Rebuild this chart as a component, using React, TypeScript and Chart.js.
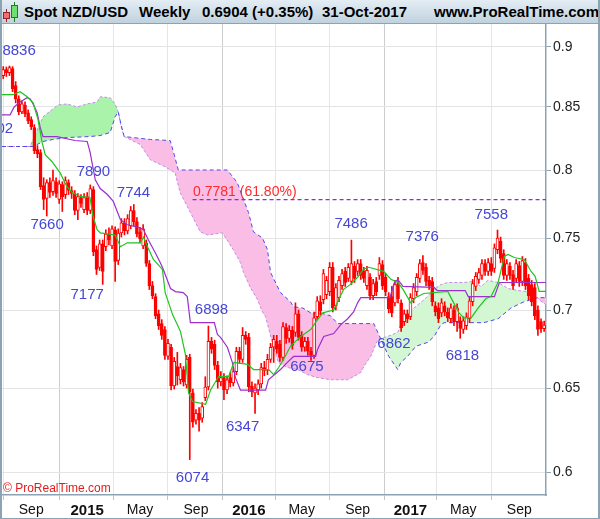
import { useEffect, useRef } from 'react';
import { Chart, registerables } from 'chart.js';
Chart.register(...registerables);

// ---- weekly candles (index 0 = week of 30-Jun-2014, index 174 = week of 30-Oct-2017)
const opens = [0.8756,0.8806,0.8781,0.8814,0.8673,0.8564,0.8458,0.8514,0.8451,0.8396,0.8333,0.8160,0.8137,0.7885,0.7789,0.7907,0.7840,0.7914,0.7781,0.7892,0.7818,0.7907,0.7848,0.7826,0.7700,0.7796,0.7707,0.7803,0.7700,0.7855,0.7418,0.7294,0.7459,0.7439,0.7530,0.7445,0.7560,0.7342,0.7537,0.7611,0.7552,0.7589,0.7700,0.7619,0.7545,0.7445,0.7466,0.7321,0.7169,0.7094,0.6978,0.6914,0.6875,0.6702,0.6760,0.6515,0.6637,0.6554,0.6618,0.6521,0.6695,0.6473,0.6306,0.6348,0.6318,0.6443,0.6509,0.6798,0.6779,0.6644,0.6541,0.6567,0.6490,0.6567,0.6534,0.6605,0.6734,0.6682,0.6837,0.6824,0.6515,0.6473,0.6490,0.6528,0.6631,0.6612,0.6682,0.6760,0.6798,0.6779,0.6695,0.6888,0.6817,0.6869,0.6856,0.6978,0.6837,0.6760,0.6798,0.6734,0.6708,0.6959,0.7059,0.7073,0.7107,0.7128,0.7294,0.7032,0.7087,0.7169,0.7266,0.7218,0.7197,0.7301,0.7266,0.7321,0.7266,0.7169,0.7225,0.7100,0.7197,0.7238,0.7314,0.7225,0.7094,0.7094,0.7052,0.7183,0.7052,0.6927,0.6978,0.6959,0.7080,0.7128,0.7218,0.7328,0.7294,0.7204,0.7197,0.7032,0.7018,0.6985,0.7032,0.6991,0.6946,0.7004,0.6927,0.6933,0.6875,0.6901,0.6946,0.7059,0.7163,0.7211,0.7238,0.7321,0.7266,0.7321,0.7287,0.7418,0.7480,0.7390,0.7238,0.7301,0.7245,0.7218,0.7307,0.7197,0.7328,0.7218,0.7176,0.7156,0.7004,0.6927,0.6880];
const highs = [0.8831,0.8828,0.8836,0.8831,0.8706,0.8589,0.8548,0.8539,0.8474,0.8419,0.8356,0.8191,0.8160,0.7944,0.7929,0.7944,0.8003,0.7944,0.7922,0.7914,0.7951,0.7929,0.7877,0.7848,0.7826,0.7818,0.7826,0.7833,0.7890,0.7877,0.7445,0.7487,0.7487,0.7560,0.7574,0.7589,0.7582,0.7567,0.7641,0.7641,0.7670,0.7730,0.7744,0.7648,0.7574,0.7597,0.7487,0.7342,0.7197,0.7114,0.7004,0.6940,0.6895,0.6811,0.6779,0.6695,0.6727,0.6657,0.6637,0.6708,0.6715,0.6496,0.6371,0.6383,0.6413,0.6573,0.6898,0.6824,0.6805,0.6670,0.6605,0.6592,0.6579,0.6599,0.6631,0.6760,0.6760,0.6888,0.6862,0.6850,0.6541,0.6528,0.6554,0.6657,0.6670,0.6715,0.6785,0.6837,0.6837,0.6805,0.6920,0.6914,0.6901,0.6895,0.7052,0.7004,0.6862,0.6824,0.6824,0.6760,0.6991,0.7094,0.7100,0.7280,0.7232,0.7328,0.7328,0.7183,0.7232,0.7280,0.7294,0.7321,0.7486,0.7335,0.7349,0.7349,0.7294,0.7301,0.7252,0.7211,0.7225,0.7363,0.7342,0.7252,0.7121,0.7163,0.7204,0.7225,0.7073,0.7004,0.7004,0.7114,0.7183,0.7252,0.7349,0.7376,0.7321,0.7232,0.7225,0.7059,0.7052,0.7080,0.7059,0.7018,0.7045,0.7032,0.7045,0.6959,0.6959,0.6985,0.7094,0.7211,0.7259,0.7287,0.7349,0.7349,0.7356,0.7363,0.7459,0.7558,0.7508,0.7418,0.7349,0.7328,0.7273,0.7349,0.7335,0.7370,0.7356,0.7245,0.7204,0.7183,0.7032,0.6946,0.6930];
const lows = [0.8731,0.8748,0.8756,0.8623,0.8531,0.8435,0.8443,0.8419,0.8364,0.8317,0.8129,0.8097,0.7855,0.7707,0.7660,0.7796,0.7811,0.7796,0.7752,0.7693,0.7789,0.7818,0.7789,0.7670,0.7633,0.7722,0.7685,0.7670,0.7678,0.7376,0.7245,0.7273,0.7177,0.7411,0.7452,0.7425,0.7197,0.7314,0.7508,0.7523,0.7530,0.7567,0.7589,0.7508,0.7466,0.7425,0.7301,0.7142,0.7080,0.6946,0.6875,0.6811,0.6682,0.6682,0.6490,0.6496,0.6521,0.6528,0.6515,0.6502,0.6074,0.6264,0.6282,0.6241,0.6294,0.6425,0.6490,0.6721,0.6618,0.6502,0.6515,0.6431,0.6467,0.6509,0.6515,0.6586,0.6657,0.6663,0.6779,0.6479,0.6449,0.6347,0.6461,0.6502,0.6579,0.6586,0.6663,0.6663,0.6721,0.6670,0.6676,0.6785,0.6792,0.6747,0.6830,0.6805,0.6734,0.6734,0.6708,0.6675,0.6689,0.6940,0.6972,0.7045,0.7080,0.7100,0.6991,0.7004,0.7059,0.7142,0.7163,0.7197,0.7176,0.7190,0.7238,0.7211,0.7190,0.7142,0.7073,0.7073,0.7100,0.7211,0.7142,0.7100,0.6985,0.6959,0.7032,0.7052,0.6862,0.6901,0.6920,0.6940,0.7052,0.7100,0.7190,0.7245,0.7169,0.7142,0.7032,0.6965,0.6920,0.6959,0.6965,0.6927,0.6920,0.6901,0.6862,0.6818,0.6850,0.6875,0.6920,0.7032,0.7135,0.7183,0.7211,0.7238,0.7238,0.7238,0.7259,0.7390,0.7328,0.7211,0.7204,0.7211,0.7142,0.7190,0.7163,0.7169,0.7142,0.7073,0.7032,0.6940,0.6837,0.6856,0.6862];
const closes = [0.8806,0.8781,0.8823,0.8648,0.8564,0.8458,0.8523,0.8443,0.8388,0.8341,0.8152,0.8129,0.7877,0.7781,0.7907,0.7833,0.7922,0.7826,0.7899,0.7803,0.7922,0.7848,0.7826,0.7700,0.7803,0.7752,0.7796,0.7700,0.7863,0.7404,0.7280,0.7459,0.7266,0.7530,0.7487,0.7567,0.7335,0.7537,0.7611,0.7552,0.7641,0.7700,0.7619,0.7530,0.7494,0.7567,0.7321,0.7169,0.7100,0.6965,0.6901,0.6837,0.6708,0.6785,0.6515,0.6670,0.6579,0.6631,0.6541,0.6682,0.6479,0.6294,0.6348,0.6306,0.6389,0.6509,0.6798,0.6747,0.6644,0.6541,0.6567,0.6490,0.6554,0.6534,0.6605,0.6734,0.6682,0.6837,0.6811,0.6509,0.6479,0.6502,0.6528,0.6631,0.6612,0.6682,0.6760,0.6811,0.6747,0.6695,0.6895,0.6817,0.6869,0.6772,0.6978,0.6824,0.6760,0.6798,0.6734,0.6708,0.6952,0.7066,0.6997,0.7252,0.7204,0.7294,0.7018,0.7156,0.7204,0.7252,0.7190,0.7294,0.7321,0.7218,0.7321,0.7238,0.7218,0.7273,0.7100,0.7183,0.7128,0.7321,0.7169,0.7128,0.7011,0.6985,0.7176,0.7080,0.6888,0.6978,0.6946,0.7087,0.7156,0.7225,0.7321,0.7273,0.7197,0.7169,0.7059,0.6991,0.6946,0.7052,0.6991,0.6952,0.7018,0.6927,0.7018,0.6882,0.6933,0.6959,0.7066,0.7183,0.7232,0.7259,0.7321,0.7266,0.7328,0.7266,0.7432,0.7501,0.7356,0.7238,0.7321,0.7238,0.7169,0.7321,0.7197,0.7342,0.7169,0.7100,0.7059,0.6965,0.6875,0.6880,0.6904];

// ---- Ichimoku lines: [week index, value]
const tenkanPoints = [[-0.4,0.8598],[3.1,0.8598],[5.4,0.8623],[7.7,0.8581],[9.6,0.8531],[11.2,0.8396],[12.5,0.8216],[13.5,0.8121],[15.7,0.8066],[18.3,0.7981],[20.5,0.7877],[22.2,0.7833],[24.7,0.7804],[27.9,0.7796],[28.9,0.7656],[30.2,0.7560],[31.2,0.7538],[36.0,0.7523],[37.7,0.7439],[39.9,0.7467],[44.1,0.7467],[45.1,0.7508],[46.4,0.7439],[48.3,0.7349],[51.2,0.7280],[52.1,0.7121],[54.5,0.6972],[57.0,0.6863],[58.6,0.6715],[59.6,0.6473],[60.9,0.6419],[65.1,0.6402],[66.7,0.6490],[69.3,0.6574],[72.5,0.6574],[74.2,0.6663],[78.6,0.6651],[80.5,0.6618],[85.4,0.6618],[87.0,0.6586],[88.6,0.6631],[90.2,0.6683],[92.4,0.6766],[94.7,0.6811],[96.6,0.6843],[98.9,0.6875],[101.1,0.6940],[102.8,0.6985],[106.3,0.7004],[107.9,0.7074],[109.5,0.7143],[111.7,0.7177],[114.0,0.7226],[115.9,0.7281],[117.6,0.7295],[122.4,0.7267],[124.7,0.7212],[126.9,0.7191],[128.6,0.7143],[131.1,0.7053],[132.7,0.7088],[135.3,0.7115],[143.0,0.7129],[144.7,0.7060],[146.6,0.6984],[148.2,0.6952],[150.5,0.6952],[152.8,0.7018],[155.3,0.7081],[156.9,0.7094],[159.2,0.7191],[161.2,0.7370],[162.4,0.7384],[164.4,0.7363],[167.6,0.7349],[169.8,0.7266],[171.1,0.7232],[172.4,0.7129],[174.6,0.7129]];
const kijunPoints = [[-0.4,0.8435],[2.2,0.8435],[3.5,0.8498],[5.4,0.8539],[7.7,0.8573],[8.6,0.8564],[9.6,0.8523],[10.9,0.8451],[11.9,0.8333],[12.8,0.8262],[17.3,0.8262],[23.1,0.8231],[27.0,0.8223],[27.9,0.8145],[29.6,0.7929],[31.2,0.7863],[33.5,0.7818],[35.4,0.7767],[37.7,0.7633],[39.9,0.7596],[44.1,0.7574],[45.1,0.7560],[46.7,0.7487],[48.9,0.7397],[50.5,0.7328],[51.5,0.7280],[53.8,0.7149],[55.4,0.7128],[57.9,0.7121],[59.2,0.7094],[60.2,0.6920],[67.9,0.6920],[68.9,0.6843],[69.9,0.6824],[72.1,0.6760],[73.7,0.6663],[74.7,0.6567],[76.3,0.6490],[84.4,0.6490],[85.3,0.6554],[89.2,0.6618],[91.4,0.6663],[93.4,0.6701],[100.5,0.6701],[101.1,0.6746],[103.1,0.6830],[106.3,0.6849],[108.6,0.6907],[110.8,0.6946],[112.7,0.6991],[114.0,0.7052],[115.0,0.7087],[124.4,0.7087],[125.7,0.7184],[126.9,0.7211],[128.6,0.7163],[138.6,0.7156],[139.6,0.7135],[148.6,0.7135],[149.6,0.7094],[158.0,0.7094],[159.6,0.7190],[174.6,0.7190]];
const spanAEarly = [[-0.4,0.8184],[8.6,0.8184],[9.6,0.8239],[12.8,0.8419],[14.4,0.8451],[17.6,0.8514],[20.5,0.8523],[23.8,0.8498],[27.0,0.8523],[30.2,0.8539],[31.2,0.8581],[34.4,0.8573],[36.0,0.8523],[37.0,0.8458]];
const spanALate = [[37.0,0.8458],[37.9,0.8341],[38.9,0.8262],[44.1,0.8199],[47.3,0.8082],[52.1,0.8027],[55.3,0.7981],[56.9,0.7833],[60.2,0.7685],[63.4,0.7545],[65.7,0.7523],[70.5,0.7538],[72.4,0.7473],[74.0,0.7418],[76.3,0.7328],[77.3,0.7259],[79.5,0.7155],[81.8,0.7073],[83.4,0.6991],[84.4,0.6959],[85.3,0.6888],[86.9,0.6766],[88.5,0.6663],[91.4,0.6631],[94.7,0.6618],[97.9,0.6586],[101.1,0.6567],[105.3,0.6554],[110.8,0.6554],[112.7,0.6573],[115.0,0.6599],[116.0,0.6637],[118.2,0.6701],[120.5,0.6810],[123.7,0.6830],[126.9,0.6856],[128.9,0.6959],[132.1,0.7017],[135.4,0.7073],[138.6,0.7142],[140.8,0.7176],[143.1,0.7190],[148.2,0.7190],[151.4,0.7197],[153.7,0.7162],[155.9,0.7204],[159.2,0.7190],[162.4,0.7149],[165.6,0.7135],[168.8,0.7128],[170.8,0.7107],[172.4,0.7073],[174.6,0.7039]];
const spanB = [[-0.4,0.8184],[9.6,0.8184],[12.8,0.8223],[16.0,0.8239],[20.5,0.8254],[27.9,0.8262],[31.2,0.8270],[34.4,0.8294],[36.0,0.8419],[37.0,0.8458],[37.9,0.8356],[38.9,0.8262],[47.3,0.8239],[53.7,0.8231],[55.0,0.8121],[56.3,0.8003],[72.1,0.8003],[75.3,0.7907],[77.3,0.7781],[78.9,0.7685],[80.5,0.7545],[83.4,0.7501],[85.0,0.7418],[86.0,0.7259],[89.2,0.7121],[92.4,0.7059],[93.4,0.7025],[96.3,0.7018],[98.9,0.6985],[102.1,0.6985],[105.3,0.6965],[107.6,0.6914],[119.2,0.6914],[120.5,0.6856],[124.0,0.6702],[126.9,0.6618],[127.9,0.6663],[130.1,0.6702],[132.7,0.6766],[136.6,0.6792],[138.6,0.6830],[140.8,0.6907],[141.8,0.6920],[154.6,0.6920],[159.2,0.6946],[163.3,0.7017],[167.5,0.7059],[172.0,0.7087],[174.6,0.7087]];

// ---- Fibonacci retracement line
const fibLevel = 0.7781;
const fibRange = [60.9, 174.6];
const fibText = '0.7781 (61.80%)';
const fibTextAt = [77.7, 0.7833];

// ---- swing labels [text], [week index], [value]
const pivotTexts = ['8836','8302','7890','7744','7660','7177','6898','6347','6074','6675','7486','7376','6862','6818','7558'];
const pivotIdx = [5.1,-2.2,29.0,41.9,14.1,27.0,67.0,77.0,60.9,97.7,111.9,134.8,125.7,147.7,157.0];
const pivotVal = [0.8963,0.8322,0.7988,0.7833,0.7597,0.7107,0.7004,0.6264,0.5967,0.6637,0.7604,0.7508,0.6785,0.6702,0.7670];

// ---- axes
const xTickIdx = [9,27,44,62,79,96,114,131,148,166];
const xTickLabels = ['Sep','2015','May','Sep','2016','May','Sep','2017','May','Sep'];
const xTickYear = [false,true,false,false,true,false,false,true,false,false];
const yTicks = [0.6,0.65,0.7,0.75,0.8,0.85,0.9];
const yMin = 0.58727;
const yMax = 0.91967;
const xMin = -0.4;
const xMax = 174.6;

const headerTexts = ['Spot NZD/USD','Weekly','0.6904 (+0.35%)','31-Oct-2017','www.ProRealTime.com'];
const headerX = [24,139,202,322,434];
const copyright = '\u00A9 ProRealTime.com';

const FONT = '"Liberation Sans", Arial, Helvetica, sans-serif';

export default function App() {
  const ref = useRef<HTMLCanvasElement | null>(null);
  useEffect(() => {
    if (!ref.current) return;
    Chart.defaults.font.family = FONT;
    const pts = (a: number[][]) => a.map(([x, y]) => ({ x, y }));
    const idx = opens.map((_, i) => i);
    const up = idx.map(i => closes[i] >= opens[i]);

    const annot = {
      id: 'annot',
      afterDatasetsDraw(chart: any) {
        const { ctx, scales, chartArea } = chart;
        const xs = scales.x, ys = scales.y;
        ctx.save();
        ctx.textAlign = 'center';
        ctx.textBaseline = 'middle';
        ctx.font = `15px ${FONT}`;
        ctx.fillStyle = '#4646d6';
        pivotTexts.forEach((t, i) => {
          ctx.fillText(t, xs.getPixelForValue(pivotIdx[i]), ys.getPixelForValue(pivotVal[i]));
        });
        ctx.font = `14px ${FONT}`;
        ctx.fillStyle = '#ff2a2a';
        ctx.fillText(fibText, xs.getPixelForValue(fibTextAt[0]), ys.getPixelForValue(fibTextAt[1]));
        ctx.font = `12px ${FONT}`;
        ctx.fillStyle = '#e51c1c';
        ctx.textAlign = 'left';
        ctx.fillText(copyright, chartArea.left + 1, chartArea.bottom - 6);
        ctx.restore();
      },
    };

    const spanStyle = { borderColor: '#c68ae8', borderWidth: 1, borderDash: [3, 2], pointRadius: 0 };

    const chart = new Chart(ref.current, {
      type: 'bar',
      data: {
        datasets: [
          {
            type: 'line', label: 'spanB', data: pts(spanB), order: 10,
            borderColor: '#4b4bea', borderWidth: 1, borderDash: [4, 3], pointRadius: 0, fill: false,
          } as any,
          {
            type: 'line', label: 'spanAEarly', data: pts(spanAEarly), order: 12, ...spanStyle,
            fill: { target: 0, above: '#aaf3aa', below: '#fabde6' },
          } as any,
          {
            type: 'line', label: 'spanALate', data: pts(spanALate), order: 11, ...spanStyle,
            fill: { target: 0, above: '#d3f7d3', below: '#fabde6' },
          } as any,
          {
            type: 'bar', label: 'wicks', order: 6, grouped: false,
            data: idx.map(i => ({ x: i, y: [lows[i], highs[i]] })),
            backgroundColor: '#ff0000', barThickness: 1, borderWidth: 0,
          } as any,
          {
            type: 'bar', label: 'bodies', order: 5, grouped: false,
            data: idx.map(i => ({ x: i, y: [opens[i], closes[i]] })),
            backgroundColor: idx.map(i => (up[i] ? '#ffffff' : '#ff0000')),
            borderColor: '#ff0000', borderWidth: 1, borderSkipped: false, barThickness: 3,
          } as any,
          {
            type: 'line', label: 'kijun', data: pts(kijunPoints), order: 3,
            borderColor: '#9b2fd0', borderWidth: 1.2, pointRadius: 0, fill: false,
          } as any,
          {
            type: 'line', label: 'tenkan', data: pts(tenkanPoints), order: 2,
            borderColor: '#1fc41f', borderWidth: 1.2, pointRadius: 0, fill: false,
          } as any,
          {
            type: 'line', label: 'fib', order: 1,
            data: [{ x: fibRange[0], y: fibLevel }, { x: fibRange[1], y: fibLevel }],
            borderColor: '#8a2be2', borderWidth: 1.2, borderDash: [4, 3], pointRadius: 0, fill: false,
          } as any,
        ],
      },
      options: {
        animation: false,
        responsive: false,
        maintainAspectRatio: false,
        events: [],
        layout: { padding: { top: 24, left: 2, right: 0, bottom: 0 } },
        plugins: { legend: { display: false }, tooltip: { enabled: false } },
        scales: {
          x: {
            type: 'linear', min: xMin, max: xMax, offset: false,
            afterBuildTicks: (s: any) => { s.ticks = xTickIdx.map(v => ({ value: v })); },
            afterFit: (s: any) => { s.height = 24; },
            ticks: {
              autoSkip: false, maxRotation: 0, padding: 2, color: '#111',
              callback: (_v: any, i: number) => xTickLabels[i],
              font: (c: any) => ({ size: xTickYear[c.index] ? 15 : 14, weight: xTickYear[c.index] ? 'bold' : 'normal', family: FONT }),
            },
            grid: {
              color: (c: any) => (xTickYear[c.index] ? '#cdcdcd' : '#e6e6e6'),
              tickLength: 5, tickColor: '#c4c4c4',
            },
            border: { color: '#8da2b3', width: 1.5 },
          },
          y: {
            type: 'logarithmic', position: 'right', min: yMin, max: yMax,
            afterBuildTicks: (s: any) => { s.ticks = yTicks.map(v => ({ value: v })); },
            afterFit: (s: any) => { s.width = 54; },
            ticks: {
              autoSkip: false, padding: 2, color: '#222', font: { size: 14, family: FONT },
              callback: (v: any) => String(Number(v)),
            },
            grid: { color: '#e4e4e4', tickLength: 5, tickColor: '#8da2b3' },
            border: { color: '#8da2b3', width: 1.5 },
          },
        },
      } as any,
      plugins: [annot],
    });
    return () => chart.destroy();
  }, []);

  return (
    <div style={{ position: 'fixed', left: 0, top: 0, width: 600, height: 519, background: '#fff', overflow: 'hidden' }}>
      <canvas ref={ref} width={600} height={519} style={{ position: 'absolute', left: 0, top: 0, width: 600, height: 519 }} />
      <div style={{ position: 'absolute', left: 0, top: 0, width: 600, height: 24, boxSizing: 'border-box', borderBottom: '1px solid #8da2b3', background: 'linear-gradient(#e4edf4, #c0d2df)', font: `bold 15px ${FONT}`, color: '#000' }}>
        <div style={{ position: 'absolute', left: 6, top: 9, width: 1, height: 13, background: '#a02020' }} />
        <div style={{ position: 'absolute', left: 3, top: 12, width: 7, height: 7, boxSizing: 'border-box', background: '#f07070', border: '1px solid #a02020' }} />
        <div style={{ position: 'absolute', left: 14, top: 2, width: 1, height: 20, background: '#1f7f1f' }} />
        <div style={{ position: 'absolute', left: 11, top: 5, width: 7, height: 13, boxSizing: 'border-box', background: '#6fe06f', border: '1px solid #1f7f1f' }} />
        {headerTexts.map((t, i) => (
          <span key={i} style={{ position: 'absolute', left: headerX[i], top: 3, whiteSpace: 'nowrap', lineHeight: '17px' }}>{t}</span>
        ))}
      </div>
      <div style={{ position: 'absolute', left: 0, top: 0, width: 600, height: 519, boxSizing: 'border-box', borderLeft: '2px solid #8da2b3', borderRight: '2px solid #8da2b3', borderBottom: '1px solid #8da2b3', pointerEvents: 'none' }} />
    </div>
  );
}
